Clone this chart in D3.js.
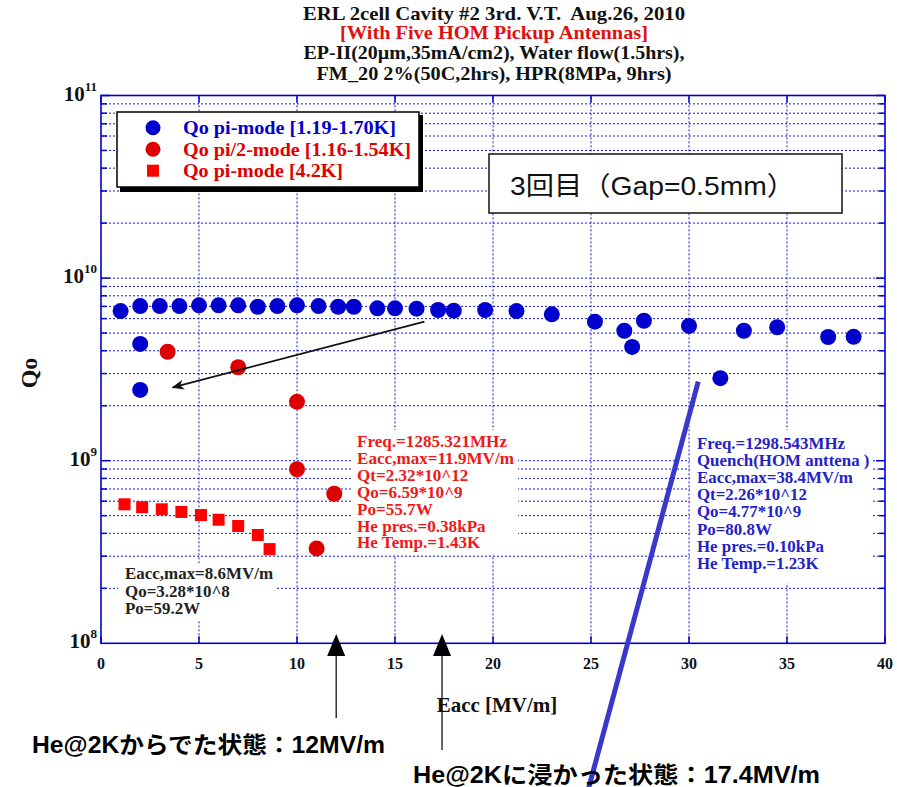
<!DOCTYPE html>
<html><head><meta charset="utf-8">
<script src="https://cdn.jsdelivr.net/npm/d3@7"></script>
<style>
body{margin:0;background:#fff}
text{white-space:pre}
</style>
</head><body>
<svg id="chart" width="897" height="787"></svg>
<script>
// Qo vs Eacc, ERL 2-cell cavity #2, third vertical test
const piModeE = [1.0, 2.0, 3.0, 4.0, 5.0, 6.0, 7.0, 8.0, 9.0, 10.0, 11.1, 12.1, 12.9, 14.1, 15.0, 16.1, 17.2, 18.0, 19.6, 21.2, 23.0, 25.2, 26.7, 27.1, 27.7, 30.0, 31.6, 32.8, 34.5, 37.1, 38.4, 2.0, 2.0];
const piModeQ = [6.60e9, 7.03e9, 7.03e9, 7.03e9, 7.09e9, 7.09e9, 7.09e9, 6.97e9, 7.03e9, 7.09e9, 7.03e9, 6.97e9, 6.97e9, 6.83e9, 6.83e9, 6.80e9, 6.69e9, 6.63e9, 6.69e9, 6.60e9, 6.33e9, 5.77e9, 5.15e9, 4.20e9, 5.84e9, 5.47e9, 2.83e9, 5.15e9, 5.38e9, 4.76e9, 4.77e9, 4.36e9, 2.44e9];
const halfPiE = [3.4, 7.0, 10.0, 10.0, 11.9, 11.0];
const halfPiQ = [3.95e9, 3.25e9, 2.10e9, 8.98e8, 6.59e8, 3.31e8];
const warmE = [1.2, 2.1, 3.1, 4.1, 5.1, 6.0, 7.0, 8.0, 8.6];
const warmQ = [5.77e8, 5.56e8, 5.42e8, 5.24e8, 5.04e8, 4.75e8, 4.39e8, 3.92e8, 3.28e8];

const xTicks = [0, 5, 10, 15, 20, 25, 30, 35, 40];
const yDecades = [8, 9, 10, 11];
const legendLabels = ["Qo pi-mode [1.19-1.70K]", "Qo pi/2-mode [1.16-1.54K]", "Qo pi-mode [4.2K]"];
const titleLines = ["ERL 2cell Cavity #2 3rd. V.T.  Aug.26, 2010", "[With Five HOM Pickup Antennas]", "EP-II(20\u00b5m,35mA/cm2), Water flow(1.5hrs),", "FM_20 2%(50C,2hrs), HPR(8MPa, 9hrs)"];
const redNote = ["Freq.=1285.321MHz", "Eacc,max=11.9MV/m", "Qt=2.32*10^12", "Qo=6.59*10^9", "Po=55.7W", "He pres.=0.38kPa", "He Temp.=1.43K"];
const blueNote = ["Freq.=1298.543MHz", "Quench(HOM anttena )", "Eacc,max=38.4MV/m", "Qt=2.26*10^12", "Qo=4.77*10^9", "Po=80.8W", "He pres.=0.10kPa", "He Temp.=1.23K"];
const blackNote = ["Eacc,max=8.6MV/m", "Qo=3.28*10^8", "Po=59.2W"];
const heOutE = 12, heInE = 17.4;

const svg = d3.select("#chart");
const x = d3.scaleLinear().domain([0, 40]).range([101, 885]);
const y = d3.scaleLog().domain([1e8, 1e11]).range([643.3, 95.5]);
const serif = "'Liberation Serif','DejaVu Serif',serif";
const sans = "'Liberation Sans','Noto Sans CJK JP',sans-serif";
const gridBlue = "#1414d8";

// widen a group of lines by one common factor so the first line spans `w` px
function widen(sel, w) {
  const n0 = sel.nodes()[0].getComputedTextLength();
  const f = w / n0;
  sel.each(function () {
    const n = this.getComputedTextLength();
    d3.select(this).attr("textLength", n * f).attr("lengthAdjust", "spacingAndGlyphs");
  });
}

// title
const titleWidths = [382, 308, 381, 355];
svg.append("g").selectAll("text").data(titleLines).join("text")
  .attr("x", 494).attr("y", (d, i) => [20, 39, 59, 80][i])
  .attr("text-anchor", "middle").attr("font-family", serif).attr("font-weight", "bold")
  .attr("font-size", 19).attr("fill", (d, i) => i === 1 ? "#e01010" : "#111")
  .attr("textLength", (d, i) => titleWidths[i]).attr("lengthAdjust", "spacingAndGlyphs")
  .text(d => d);

// grid
const gridY = [];
[8, 9, 10].forEach(p => { for (let m = 1; m <= 9; m++) { const v = m * Math.pow(10, p); if (v > 1e8) gridY.push(v); } });
const grid = svg.append("g");
grid.selectAll("line.gy").data(gridY).join("line")
  .attr("x1", x(0)).attr("x2", x(40)).attr("y1", d => y(d)).attr("y2", d => y(d))
  .attr("stroke", gridBlue).attr("stroke-width", 1).attr("stroke-dasharray", "2,2");
grid.selectAll("line.gx").data(xTicks.slice(1, -1)).join("line")
  .attr("x1", d => x(d)).attr("x2", d => x(d)).attr("y1", y(1e8)).attr("y2", y(1e11))
  .attr("stroke", gridBlue).attr("stroke-width", 1).attr("stroke-dasharray", "2,2");

// ticks, inward on all four sides
const tk = svg.append("g").attr("stroke", "#0000cc").attr("stroke-width", 1.5);
gridY.concat([1e11]).forEach(v => {
  const len = Number.isInteger(Math.log10(v)) ? 9 : 6;
  tk.append("line").attr("x1", x(0)).attr("x2", x(0) + len).attr("y1", y(v)).attr("y2", y(v));
  tk.append("line").attr("x1", x(40)).attr("x2", x(40) - len).attr("y1", y(v)).attr("y2", y(v));
});
xTicks.forEach(v => {
  tk.append("line").attr("x1", x(v)).attr("x2", x(v)).attr("y1", y(1e8)).attr("y2", y(1e8) - 7);
  tk.append("line").attr("x1", x(v)).attr("x2", x(v)).attr("y1", y(1e11)).attr("y2", y(1e11) + 7);
});

// white backing for the note blocks
const boxes = [[118, 563, 157, 57], [352, 430, 166, 125], [690, 430, 182, 153]];
svg.append("g").selectAll("rect").data(boxes).join("rect")
  .attr("x", d => d[0]).attr("y", d => d[1]).attr("width", d => d[2]).attr("height", d => d[3]).attr("fill", "#fff");

// frame
svg.append("rect").attr("x", x(0)).attr("y", y(1e11)).attr("width", x(40) - x(0)).attr("height", y(1e8) - y(1e11))
  .attr("fill", "none").attr("stroke", "#0000d0").attr("stroke-width", 1.6);

// axis labels
svg.append("g").selectAll("text").data(xTicks).join("text")
  .attr("x", d => x(d)).attr("y", 669).attr("text-anchor", "middle")
  .attr("font-family", serif).attr("font-weight", "bold").attr("font-size", 16).attr("fill", "#111")
  .text(d => d);
const yl = svg.append("g").selectAll("text").data(yDecades).join("text")
  .attr("x", 97).attr("y", d => y(Math.pow(10, d)) + 5).attr("text-anchor", "end")
  .attr("font-family", serif).attr("font-weight", "bold").attr("font-size", 21).attr("fill", "#111");
yl.append("tspan").text("10");
yl.append("tspan").attr("dy", -10).attr("font-size", 13).text(d => d);

svg.append("text").attr("transform", "translate(37,373) rotate(-90)").attr("text-anchor", "middle")
  .attr("font-family", serif).attr("font-weight", "bold").attr("font-size", 24).attr("fill", "#111").text("Qo");
svg.append("text").attr("x", 497).attr("y", 712).attr("text-anchor", "middle")
  .attr("font-family", serif).attr("font-weight", "bold").attr("font-size", 21).attr("fill", "#111").text("Eacc [MV/m]");

// data marks
const marks = svg.append("g");
marks.selectAll("circle.pi").data(piModeE).join("circle")
  .attr("cx", d => x(d)).attr("cy", (d, i) => y(piModeQ[i])).attr("r", 8).attr("fill", "#0000cd");
marks.selectAll("circle.half").data(halfPiE).join("circle")
  .attr("cx", d => x(d)).attr("cy", (d, i) => y(halfPiQ[i])).attr("r", 8).attr("fill", "#dc0000");
marks.selectAll("rect.warm").data(warmE).join("rect")
  .attr("x", d => x(d) - 6).attr("y", (d, i) => y(warmQ[i]) - 6).attr("width", 12).attr("height", 12).attr("fill", "#ff0000");

// note texts
function note(lines, x0, y0, color, size, step, w) {
  const sel = svg.append("g").selectAll("text").data(lines).join("text")
    .attr("x", x0).attr("y", (d, i) => y0 + i * step)
    .attr("font-family", serif).attr("font-weight", "bold").attr("font-size", size).attr("fill", color).text(d => d);
  widen(sel, w);
}
note(redNote, 357, 447, "#f01818", 16, 16.9, 150);
note(blueNote, 697, 449, "#2222c8", 16, 17.1, 148);
note(blackNote, 125, 579, "#222", 16, 17.5, 148);

// arrow from the 2K row back to the low-field points
svg.append("defs").append("marker").attr("id", "ah").attr("viewBox", "0 0 10 10").attr("refX", 9).attr("refY", 5)
  .attr("markerWidth", 7).attr("markerHeight", 7).attr("orient", "auto-start-reverse")
  .append("path").attr("d", "M0,1 L10,5 L0,9 L3,5 Z").attr("fill", "#111");
svg.append("line").attr("x1", x(16.5)).attr("y1", y(5.77e9)).attr("x2", x(3.66)).attr("y2", y(2.52e9))
  .attr("stroke", "#111").attr("stroke-width", 1.8).attr("marker-end", "url(#ah)");

// quench pointer
svg.append("line").attr("x1", x(30.47)).attr("y1", y(2.71e9)).attr("x2", x(24.85)).attr("y2", y(1.57e7))
  .attr("stroke", "#3838cc").attr("stroke-width", 5);

// helium level markers below the axis
[[heOutE, 718], [heInE, 750]].forEach(([e, bottom]) => {
  const cx = x(e);
  svg.append("line").attr("x1", cx).attr("x2", cx).attr("y1", 654).attr("y2", bottom).attr("stroke", "#111").attr("stroke-width", 1.3);
  svg.append("path").attr("d", `M${cx},634 L${cx - 9},656 L${cx + 9},656 Z`).attr("fill", "#000");
});
svg.append("text").attr("x", 32).attr("y", 753).attr("font-family", sans).attr("font-weight", "bold")
  .attr("font-size", 23).attr("fill", "#000").attr("textLength", 353).attr("lengthAdjust", "spacingAndGlyphs")
  .text("He@2Kからでた状態：12MV/m");
svg.append("text").attr("x", 413).attr("y", 783).attr("font-family", sans).attr("font-weight", "bold")
  .attr("font-size", 23).attr("fill", "#000").attr("textLength", 407).attr("lengthAdjust", "spacingAndGlyphs")
  .text("He@2Kに浸かった状態：17.4MV/m");

// legend
const lg = svg.append("g");
lg.append("rect").attr("x", 120).attr("y", 115).attr("width", 303).attr("height", 77).attr("fill", "#000");
lg.append("rect").attr("x", 117).attr("y", 112).attr("width", 302).attr("height", 75).attr("fill", "#fff").attr("stroke", "#000").attr("stroke-width", 1.5);
const rowY = [127.7, 149.3, 170.7];
const legColors = ["#0000cd", "#dc0000", "#ff0000"];
const legWidths = [213, 228, 160];
legendLabels.forEach((t, i) => {
  if (i < 2) lg.append("circle").attr("cx", 153).attr("cy", rowY[i]).attr("r", 7.5).attr("fill", legColors[i]);
  else lg.append("rect").attr("x", 147).attr("y", rowY[i] - 6).attr("width", 12).attr("height", 12).attr("fill", legColors[i]);
  lg.append("text").attr("x", 183).attr("y", rowY[i] + 6.5).attr("font-family", serif).attr("font-weight", "bold")
    .attr("font-size", 19).attr("fill", i === 0 ? "#0000cd" : "#e00000")
    .attr("textLength", legWidths[i]).attr("lengthAdjust", "spacingAndGlyphs").text(t);
});

// gap label box
svg.append("rect").attr("x", 489).attr("y", 154).attr("width", 353).attr("height", 59)
  .attr("fill", "#fff").attr("stroke", "#111").attr("stroke-width", 1.5);
svg.append("text").attr("x", 510).attr("y", 195).attr("font-family", sans).attr("font-size", 26).attr("fill", "#111")
  .attr("textLength", 285).attr("lengthAdjust", "spacingAndGlyphs")
  .text("3回目（Gap=0.5mm）");
</script>
</body></html>
